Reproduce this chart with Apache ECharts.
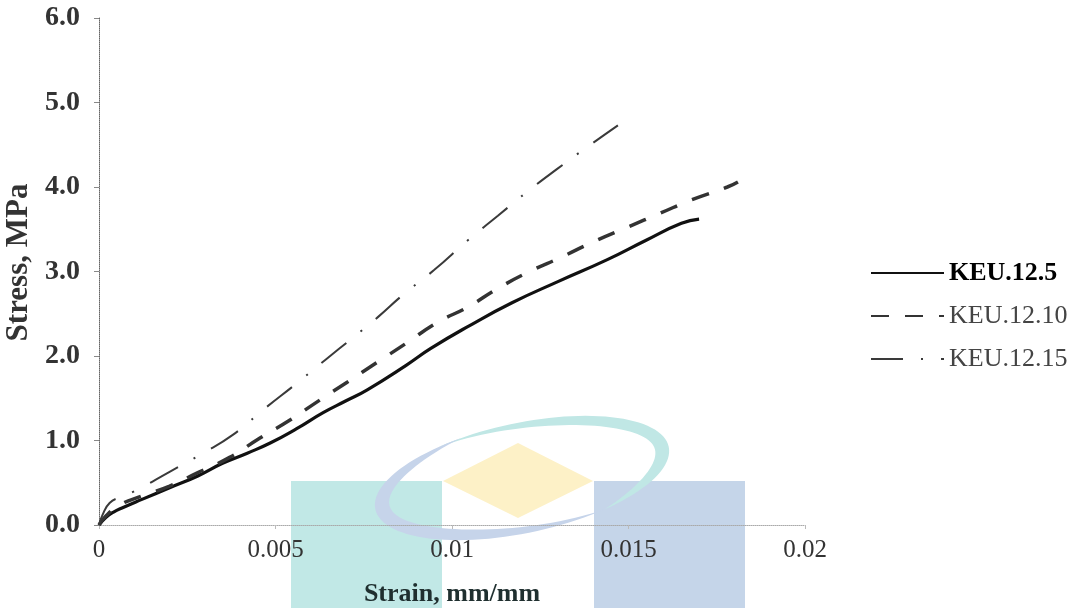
<!DOCTYPE html>
<html>
<head>
<meta charset="utf-8">
<title>Stress-strain KEU.12</title>
<script src="https://cdn.jsdelivr.net/npm/echarts@6/dist/echarts.min.js"></script>
<style>
  html, body { margin: 0; padding: 0; background: #fff; }
  #chart { width: 1075px; height: 608px; }
</style>
</head>
<body>
<div id="chart"></div>
<script>
// 数据：应变 (mm/mm) 与应力 (MPa)
var strain5 = [0, 0.0002, 0.0004, 0.0007, 0.0012, 0.002, 0.0028, 0.0035, 0.0042, 0.00485, 0.0056, 0.00635, 0.007, 0.0076, 0.0087, 0.0094, 0.0105, 0.0117, 0.013, 0.0144, 0.0155, 0.0165, 0.0170];
var stress5 = [0, 0.09, 0.15, 0.21, 0.3, 0.44, 0.58, 0.73, 0.85, 0.97, 1.14, 1.33, 1.47, 1.6, 1.89, 2.09, 2.36, 2.63, 2.88, 3.14, 3.37, 3.57, 3.62];

var strain10 = [0, 0.0002, 0.0006, 0.0012, 0.002, 0.0028, 0.0037, 0.00456, 0.0054, 0.00626, 0.00703, 0.0079, 0.0087, 0.0096, 0.01045, 0.0113, 0.0122, 0.0131, 0.014, 0.015, 0.0159, 0.0168, 0.0178, 0.0181];
var stress10 = [0, 0.11, 0.24, 0.34, 0.46, 0.62, 0.8, 1.03, 1.24, 1.48, 1.69, 1.93, 2.15, 2.40, 2.58, 2.80, 3.0, 3.17, 3.35, 3.53, 3.69, 3.85, 4.0, 4.06];

var strain15 = [0, 0.0001, 0.0003, 0.0006, 0.001, 0.002, 0.0029, 0.0038, 0.0047, 0.00555, 0.0064, 0.0072, 0.0079, 0.0086, 0.0095, 0.01045, 0.0113, 0.01212, 0.013, 0.01382, 0.0147];
var stress15 = [0, 0.12, 0.26, 0.33, 0.40, 0.63, 0.84, 1.07, 1.38, 1.66, 1.95, 2.22, 2.46, 2.72, 3.02, 3.37, 3.66, 3.94, 4.22, 4.47, 4.73];

var seriesNames = ['KEU.12.5', 'KEU.12.10', 'KEU.12.15'];
var xTickLabels = ['0', '0.005', '0.01', '0.015', '0.02'];

var serif = '"Liberation Serif", "Times New Roman", serif';

function pairs(xs, ys) {
  return xs.map(function (x, i) { return [x, ys[i]]; });
}

// 背景水印（椭圆弧带）
function ellipseBand(cx, cy, a, b, rot, th0, th1, peak, wmax) {
  var n = 60, outer = [], inner = [];
  var c = Math.cos(rot), s = Math.sin(rot);
  for (var i = 0; i <= n; i++) {
    var t = i / n;
    var th = (th0 + (th1 - th0) * t) * Math.PI / 180;
    var u = t < peak ? t / peak * 0.5 : 0.5 + (t - peak) / (1 - peak) * 0.5;
    var w = wmax * Math.sin(Math.PI * u);
    [[a, b, outer], [a - w, b - w, inner]].forEach(function (e) {
      var lx = e[0] * Math.cos(th), ly = -e[1] * Math.sin(th);
      e[2].push([cx + lx * c - ly * s, cy + lx * s + ly * c]);
    });
  }
  return outer.concat(inner.reverse());
}

var rot = -12 * Math.PI / 180;

var chart = echarts.init(document.getElementById('chart'));
var option = {
  backgroundColor: '#fff',
  animation: false,
  graphic: [
    { type: 'rect', z: -10, shape: { x: 291, y: 481, width: 151, height: 127 }, style: { fill: '#c1e8e6' } },
    { type: 'rect', z: -10, shape: { x: 594, y: 481, width: 151, height: 127 }, style: { fill: '#c5d5e9' } },
    { type: 'polygon', z: -10, shape: { points: [[443, 481], [518, 443], [593, 481], [518, 518]] }, style: { fill: '#fdf1c7' } },
    { type: 'polygon', z: -10, shape: { points: ellipseBand(522, 478, 150, 55, rot, 120, -60, 0.667, 14) }, style: { fill: '#c0e7e5' } },
    { type: 'polygon', z: -10, shape: { points: ellipseBand(522, 478, 150, 55, rot, 110, 300, 0.42, 15) }, style: { fill: '#c6d4ea' } }
  ],
  grid: { left: 99, right: 270, top: 18, bottom: 83, containLabel: false, outerBoundsMode: 'none' },
  legend: {
    orient: 'vertical',
    left: 865,
    top: 255,
    itemWidth: 73,
    itemHeight: 14,
    itemGap: 17,
    itemStyle: { opacity: 0 },
    textStyle: { fontFamily: serif, fontSize: 26, color: '#444' },
    data: [
      { name: seriesNames[0], textStyle: { fontWeight: 'bold', color: '#000' } },
      { name: seriesNames[1] },
      { name: seriesNames[2] }
    ]
  },
  xAxis: {
    type: 'value',
    min: 0,
    max: 0.02,
    interval: 0.005,
    name: 'Strain, mm/mm',
    nameLocation: 'middle',
    nameGap: 56,
    nameTextStyle: { fontFamily: serif, fontSize: 26, fontWeight: 'bold', color: '#1f2f2f' },
    axisLine: { lineStyle: { color: '#aaa', type: 'dotted', width: 1 } },
    axisTick: { show: true, length: 4, lineStyle: { color: '#bbb' } },
    axisLabel: {
      fontFamily: serif, fontSize: 25, color: '#333', margin: 13,
      formatter: function (v) { return xTickLabels[Math.round(v / 0.005)]; }
    },
    splitLine: { show: false }
  },
  yAxis: {
    type: 'value',
    min: 0,
    max: 6,
    interval: 1,
    name: 'Stress, MPa',
    nameLocation: 'middle',
    nameGap: 59,
    nameTextStyle: { fontFamily: serif, fontSize: 31, fontWeight: 'bold', color: '#333', padding: [0, 0, 0, 18] },
    axisLine: { show: true, lineStyle: { color: '#666', type: 'dotted', width: 1 } },
    axisTick: { show: true, length: 5, lineStyle: { color: '#888' } },
    axisLabel: {
      fontFamily: serif, fontSize: 28, fontWeight: 'bold', color: '#333', margin: 19,
      formatter: function (v) { return v.toFixed(1); }
    },
    splitLine: { show: false }
  },
  series: [
    {
      name: seriesNames[0],
      type: 'line',
      symbol: 'none',
      smooth: true,
      data: pairs(strain5, stress5),
      lineStyle: { color: '#111', width: 3.2, type: 'solid' },
      itemStyle: { color: '#111' }
    },
    {
      name: seriesNames[1],
      type: 'line',
      symbol: 'none',
      smooth: true,
      data: pairs(strain10, stress10),
      lineStyle: { color: '#333', width: 3.5, type: [18, 16] },
      itemStyle: { color: '#333' }
    },
    {
      name: seriesNames[2],
      type: 'line',
      symbol: 'none',
      smooth: true,
      data: pairs(strain15, stress15),
      lineStyle: { color: '#3a3a3a', width: 2, type: [32, 18, 2, 18] },
      itemStyle: { color: '#3a3a3a' }
    }
  ]
};
chart.setOption(option);
</script>
</body>
</html>
